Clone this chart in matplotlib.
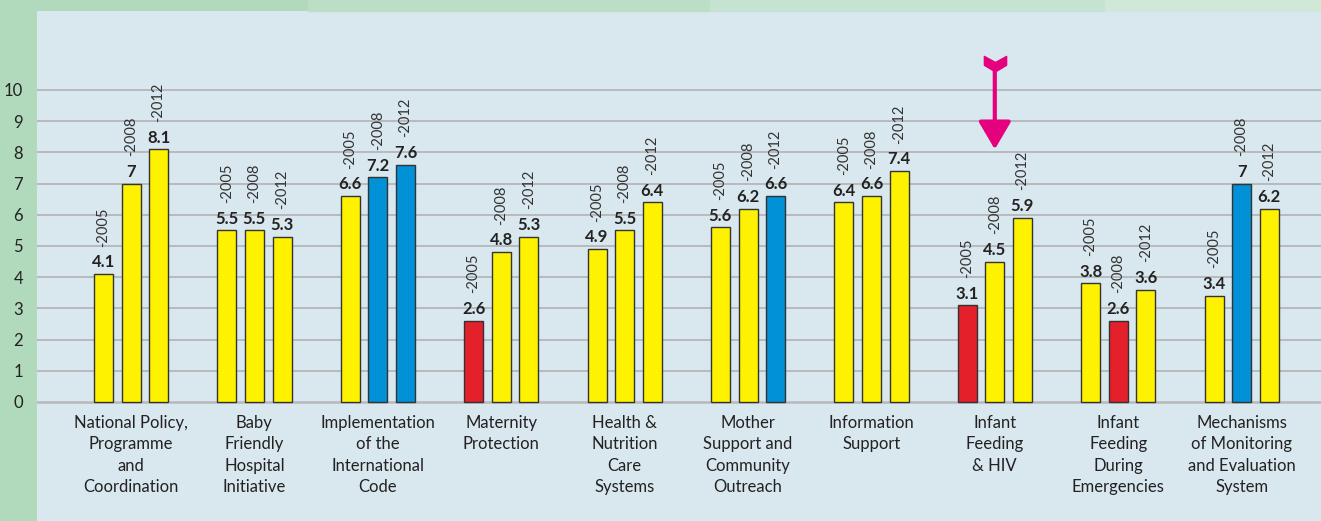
import numpy as np
import matplotlib.pyplot as plt
from matplotlib.patches import Rectangle
from matplotlib.path import Path

# Data
categories = ['National Policy,\nProgramme\nand\nCoordination',
              'Baby\nFriendly\nHospital\nInitiative',
              'Implementation\nof the\nInternational\nCode',
              'Maternity\nProtection',
              'Health &\nNutrition\nCare\nSystems',
              'Mother\nSupport and\nCommunity\nOutreach',
              'Information\nSupport',
              'Infant\nFeeding\n& HIV',
              'Infant\nFeeding\nDuring\nEmergencies',
              'Mechanisms\nof Monitoring\nand Evaluation\nSystem']
years = ['-2005', '-2008', '-2012']
v2005 = [4.1, 5.5, 6.6, 2.6, 4.9, 5.6, 6.4, 3.1, 3.8, 3.4]
v2008 = [7, 5.5, 7.2, 4.8, 5.5, 6.2, 6.6, 4.5, 2.6, 7]
v2012 = [8.1, 5.3, 7.6, 5.3, 6.4, 6.6, 7.4, 5.9, 3.6, 6.2]
# colour code per bar: y = yellow, b = blue, r = red
c2005 = ['y', 'y', 'y', 'r', 'y', 'y', 'y', 'r', 'y', 'y']
c2008 = ['y', 'y', 'b', 'y', 'y', 'y', 'y', 'y', 'r', 'b']
c2012 = ['y', 'y', 'b', 'y', 'y', 'b', 'y', 'y', 'y', 'y']
yticks = list(range(0, 11))

palette = {'y': '#fff200', 'b': '#0091d6', 'r': '#e4202a'}
plt.rcParams['font.family'] = ['Lato', 'DejaVu Sans']

W, H = 1321, 521
fig = plt.figure(figsize=(W / 100, H / 100), dpi=100)
fig.patch.set_facecolor('#b1d9bb')

# top strip shades
for x0, x1, col in [(308, 710, '#bcdec6'), (710, 1105, '#c6e3d1'), (1105, 1321, '#d0e8d7')]:
    fig.patches.append(Rectangle((x0 / W, 1 - 11 / H), (x1 - x0) / W, 11 / H,
                                 transform=fig.transFigure, color=col, zorder=0))

ax = fig.add_axes([37 / W, 0, 1 - 37 / W, (H - 11) / H])
ax.set_facecolor('#d9e7ee')
for s in ax.spines.values():
    s.set_visible(False)

px = 31.2  # pixels per unit
ax.set_ylim(-(H - 402) / px, (402 - 11) / px)
step = 123.4
ax.set_xlim(-(131 - 37) / step, (W - 131) / step)

for t in yticks:
    ax.axhline(t, color='#b9b9bd', lw=1.8 if t == 0 else 1.4, zorder=1)
ax.set_yticks(yticks)
ax.set_yticklabels([str(t) for t in yticks], fontsize=12, color='#222222')
ax.tick_params(axis='y', length=0, pad=10)
ax.set_xticks([])

x = np.arange(len(categories))
off = 27.6 / step
bw = 19 / step
for i, (vals, cols) in enumerate([(v2005, c2005), (v2008, c2008), (v2012, c2012)]):
    xs = x + (i - 1) * off
    ax.bar(xs, vals, width=bw, color=[palette[c] for c in cols],
           edgecolor='#333333', linewidth=1.0, zorder=3)
    for xi, v in zip(xs, vals):
        lab = f'{v:g}'
        ax.text(xi, v + 0.12, lab, ha='center', va='bottom', fontsize=12,
                fontweight='bold', color='#222222', zorder=4)
        ax.text(xi, v + 0.88, years[i], ha='center', va='bottom', rotation=90,
                fontsize=10.5, color='#333333', zorder=4)

for xi, name in zip(x, categories):
    ax.text(xi, -0.42, name, ha='center', va='top', fontsize=12,
            color='#222222', linespacing=1.4)

# magenta arrow over Infant Feeding & HIV
mag = '#e5007e'
ax.annotate('', xy=(7, 8.1), xytext=(7, 10.75),
            arrowprops=dict(arrowstyle='-|>,head_width=1.0,head_length=1.7',
                            color=mag, lw=3, shrinkA=0, shrinkB=0), zorder=5)
tail = Path([(-1, 1), (0, 0.45), (1, 1), (1, 0.2), (0, -0.4), (-1, 0.2), (-1, 1)],
            [Path.MOVETO] + [Path.LINETO] * 5 + [Path.CLOSEPOLY])
ax.plot([7], [10.75], marker=tail, markersize=16, color=mag, zorder=6)

fig.savefig('out.png', dpi=100, facecolor=fig.get_facecolor())
